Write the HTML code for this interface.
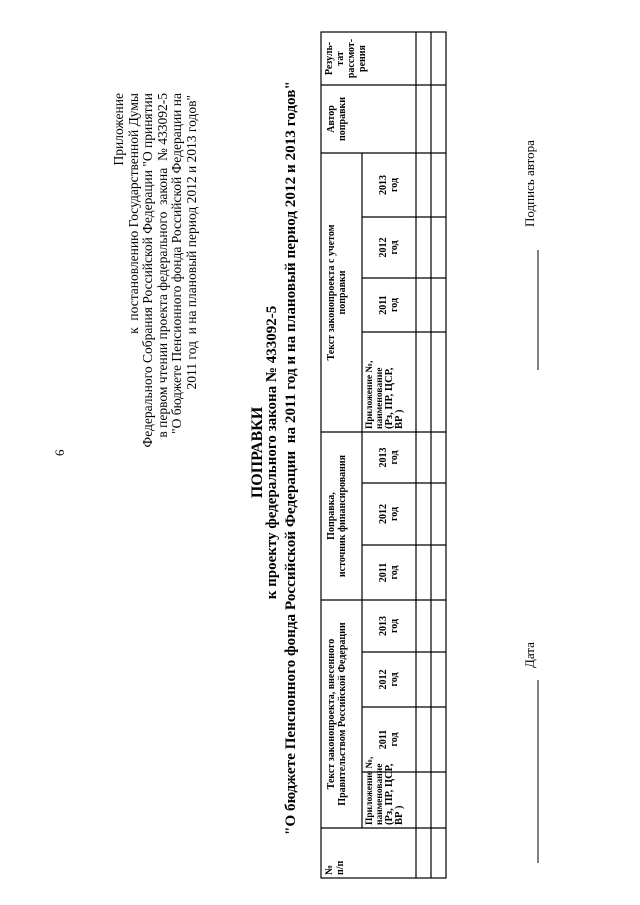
<!DOCTYPE html>
<html><head><meta charset="utf-8"><style>
body{margin:0;background:#fff;width:640px;height:905px;overflow:hidden;position:relative}
#d{position:absolute;left:0;top:905px;width:905px;height:640px;transform-origin:0 0;transform:rotate(-90deg);font-family:"Liberation Serif",serif;color:#000}
.a{position:absolute;white-space:nowrap}
.c{position:absolute;text-align:center;font-weight:bold;font-size:10px;line-height:11px}
.hd{font-size:13.5px;line-height:14.5px;text-align:right;right:93px;position:absolute;white-space:nowrap}
</style></head><body><div id="d">
<div class="a" style="left:449px;top:52px;font-size:13px">6</div>
<div class="hd" style="top:112px">Приложение</div>
<div class="hd" style="top:127px">к &nbsp;постановлению Государственной Думы</div>
<div class="hd" style="top:141px">Федерального Собрания Российской Федерации "О принятии</div>
<div class="hd" style="top:156px">в первом чтении проекта федерального &nbsp;закона &nbsp;№ 433092-5</div>
<div class="hd" style="top:170px">"О бюджете Пенсионного фонда Российской Федерации на</div>
<div class="hd" style="top:185px;right:95px">2011 год &nbsp;и на плановый период 2012 и 2013 годов"</div>
<div class="a" style="left:0;width:905px;text-align:center;top:249px;font-size:16px;font-weight:bold;line-height:17px">ПОПРАВКИ</div>
<div class="a" style="left:0;width:905px;text-align:center;top:264px;font-size:15px;font-weight:bold;line-height:16px">к проекту федерального закона № 433092-5</div>
<div class="a" style="left:70px;width:747px;text-align:center;top:282px;font-size:15.2px;font-weight:bold;line-height:17px">"О бюджете Пенсионного фонда Российской Федерации &nbsp;на 2011 год и на плановый период 2012 и 2013 годов"</div>
<svg class="a" style="left:0;top:0" width="905" height="640">
<g stroke="#000" stroke-width="1.2" fill="none">
<rect x="27" y="321" width="846" height="125"/>
<line x1="27" y1="416" x2="873" y2="416"/>
<line x1="27" y1="431" x2="873" y2="431"/>
<line x1="77" y1="362" x2="305" y2="362"/>
<line x1="305" y1="362" x2="473" y2="362"/>
<line x1="473" y1="362" x2="752" y2="362"/>
<line x1="77" y1="321" x2="77" y2="446"/>
<line x1="305" y1="321" x2="305" y2="446"/>
<line x1="473" y1="321" x2="473" y2="446"/>
<line x1="752" y1="321" x2="752" y2="446"/>
<line x1="820" y1="321" x2="820" y2="446"/>
<line x1="133" y1="362" x2="133" y2="446"/>
<line x1="198" y1="362" x2="198" y2="446"/>
<line x1="253" y1="362" x2="253" y2="446"/>
<line x1="360" y1="362" x2="360" y2="446"/>
<line x1="422" y1="362" x2="422" y2="446"/>
<line x1="573" y1="362" x2="573" y2="446"/>
<line x1="627" y1="362" x2="627" y2="446"/>
<line x1="688" y1="362" x2="688" y2="446"/>
<line x1="42" y1="538" x2="225" y2="538" stroke-width="1"/>
<line x1="535" y1="538" x2="655" y2="538" stroke-width="1"/>
</g></svg>
<div class="c" style="left:30px;top:324px;text-align:left">№<br>п/п</div>
<div class="c" style="left:77px;width:228px;top:326px">Текст законопроекта, внесенного<br>Правительством Российской Федерации</div>
<div class="c" style="left:305px;width:168px;top:326px">Поправка,<br>источник финансирования</div>
<div class="c" style="left:473px;width:279px;top:326px">Текст законопроекта с учетом<br>поправки</div>
<div class="c" style="left:752px;width:68px;top:326px">Автор<br>поправки</div>
<div class="c" style="left:820px;width:53px;top:324px">Резуль-<br>тат<br>рассмот-<br>рения</div>
<div class="c" style="left:80px;top:365px;text-align:left;font-size:9.5px;line-height:10px">Приложение №,<br>наименование<br><span style="font-size:10.5px">(Рз, ПР, ЦСР,<br>ВР )</span></div>
<div class="c" style="left:476px;top:365px;text-align:left;font-size:9.5px;line-height:10px">Приложение №,<br>наименование<br><span style="font-size:10.5px">(Рз, ПР, ЦСР,<br>ВР )</span></div>
<div class="c" style="left:133px;width:65px;top:378px">2011<br>год</div>
<div class="c" style="left:198px;width:55px;top:378px">2012<br>год</div>
<div class="c" style="left:253px;width:52px;top:378px">2013<br>год</div>
<div class="c" style="left:305px;width:55px;top:378px">2011<br>год</div>
<div class="c" style="left:360px;width:62px;top:378px">2012<br>год</div>
<div class="c" style="left:422px;width:51px;top:378px">2013<br>год</div>
<div class="c" style="left:573px;width:54px;top:378px">2011<br>год</div>
<div class="c" style="left:627px;width:61px;top:378px">2012<br>год</div>
<div class="c" style="left:688px;width:64px;top:378px">2013<br>год</div>
<div class="a" style="left:678px;top:522px;font-size:13px">Подпись автора</div>
<div class="a" style="left:237px;top:522px;font-size:13px">Дата</div>
</div></body></html>
